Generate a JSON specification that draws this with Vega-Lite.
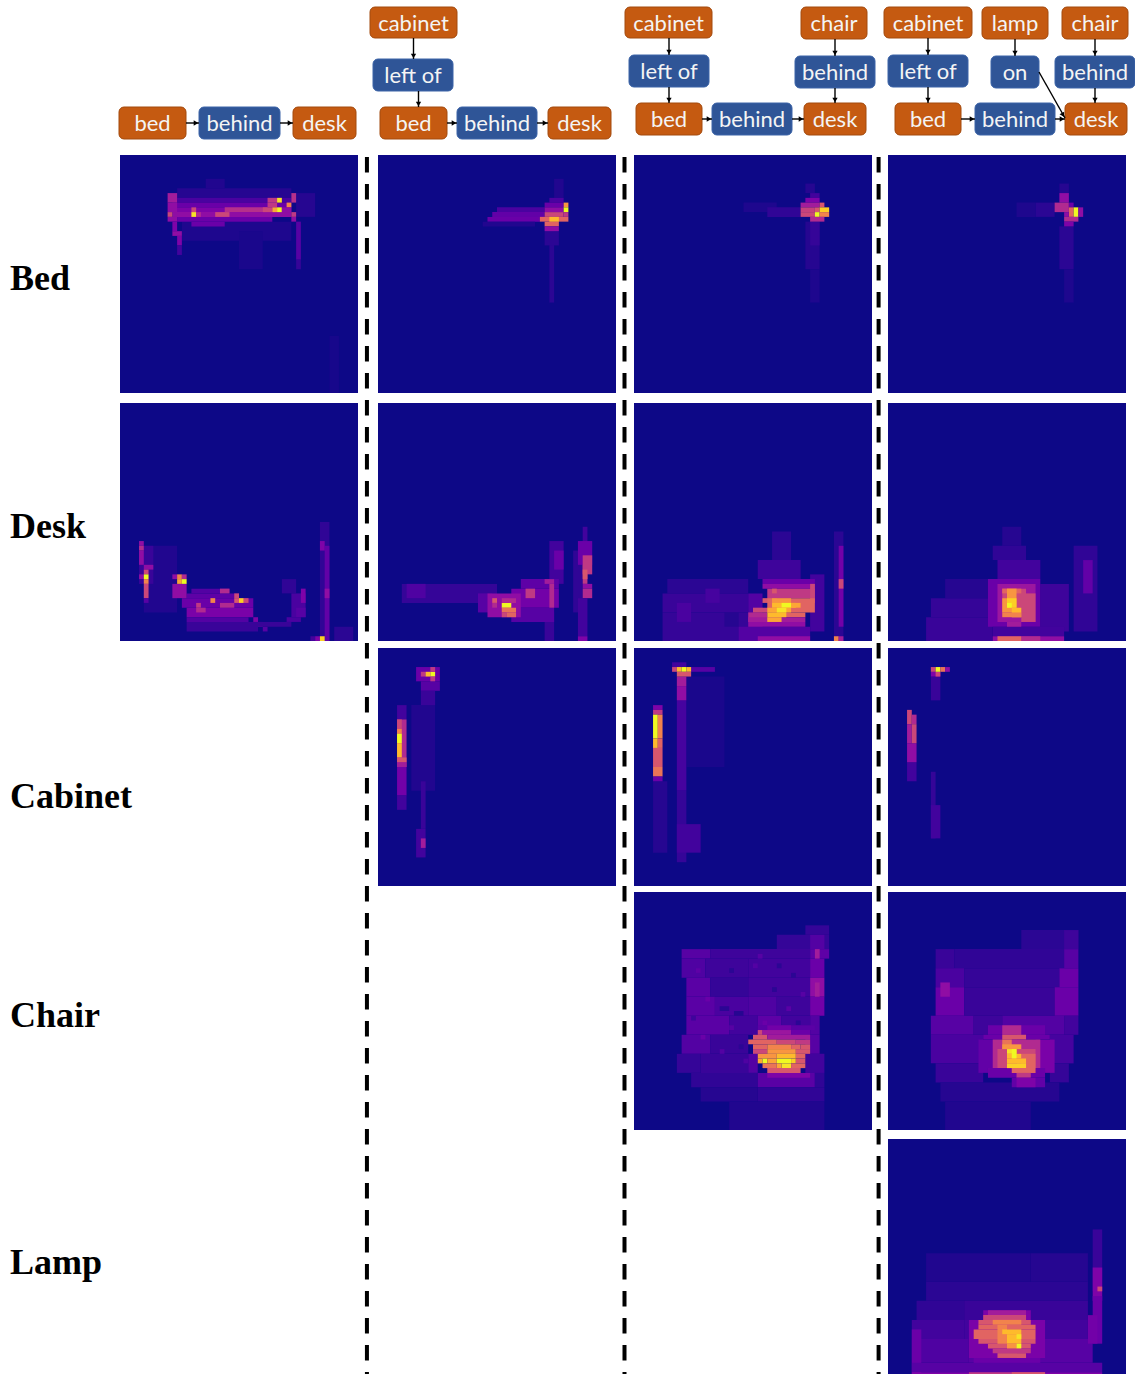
{"$schema":"https://vega.github.io/schema/vega-lite/v6.json","padding":0,"background":"white","spacing":0,"config":{"view":{"stroke":null},"concat":{"spacing":0},"axis":{"disable":true},"legend":{"disable":true}},
"datasets":{
"nodes":[
{"t":"bed","k":"object","x":119,"X":186,"y":107,"Y":139,"cx":152.5,"cy":123},
{"t":"behind","k":"relation","x":199,"X":280,"y":107,"Y":139,"cx":239.5,"cy":123},
{"t":"desk","k":"object","x":293,"X":356,"y":107,"Y":139,"cx":324.5,"cy":123},
{"t":"cabinet","k":"object","x":370,"X":457,"y":7,"Y":38,"cx":413.5,"cy":23},
{"t":"left of","k":"relation","x":373,"X":453,"y":59,"Y":91,"cx":413,"cy":75},
{"t":"bed","k":"object","x":380,"X":447,"y":107,"Y":139,"cx":413.5,"cy":123},
{"t":"behind","k":"relation","x":457,"X":537,"y":107,"Y":139,"cx":497,"cy":123},
{"t":"desk","k":"object","x":548,"X":611,"y":107,"Y":139,"cx":579.5,"cy":123},
{"t":"cabinet","k":"object","x":625,"X":712,"y":7,"Y":38,"cx":668.5,"cy":23},
{"t":"chair","k":"object","x":801,"X":867,"y":7,"Y":39,"cx":834,"cy":23},
{"t":"left of","k":"relation","x":629,"X":709,"y":55,"Y":87,"cx":669,"cy":71},
{"t":"behind","k":"relation","x":795,"X":875,"y":56,"Y":88,"cx":835,"cy":72},
{"t":"bed","k":"object","x":636,"X":702,"y":103,"Y":135,"cx":669,"cy":119},
{"t":"behind","k":"relation","x":712,"X":792,"y":103,"Y":135,"cx":752,"cy":119},
{"t":"desk","k":"object","x":804,"X":866,"y":103,"Y":135,"cx":835,"cy":119},
{"t":"cabinet","k":"object","x":884,"X":972,"y":7,"Y":38,"cx":928,"cy":23},
{"t":"lamp","k":"object","x":982,"X":1048,"y":7,"Y":39,"cx":1015,"cy":23},
{"t":"chair","k":"object","x":1062,"X":1128,"y":7,"Y":39,"cx":1095,"cy":23},
{"t":"left of","k":"relation","x":888,"X":968,"y":55,"Y":87,"cx":928,"cy":71},
{"t":"on","k":"relation","x":991,"X":1039,"y":56,"Y":88,"cx":1015,"cy":72},
{"t":"behind","k":"relation","x":1055,"X":1135,"y":56,"Y":88,"cx":1095,"cy":72},
{"t":"bed","k":"object","x":895,"X":961,"y":103,"Y":135,"cx":928,"cy":119},
{"t":"behind","k":"relation","x":975,"X":1055,"y":103,"Y":135,"cx":1015,"cy":119},
{"t":"desk","k":"object","x":1065,"X":1127,"y":103,"Y":135,"cx":1096,"cy":119}],
"edges":[
{"x":186,"y":123,"X":199,"Y":123,"hx":196,"hy":123,"a":90},
{"x":280,"y":123,"X":293,"Y":123,"hx":290,"hy":123,"a":90},
{"x":413.5,"y":38,"X":413.5,"Y":59,"hx":413.5,"hy":56,"a":180},
{"x":418.5,"y":91,"X":418.5,"Y":107,"hx":418.5,"hy":104,"a":180},
{"x":447,"y":123,"X":457,"Y":123,"hx":454,"hy":123,"a":90},
{"x":537,"y":123,"X":548,"Y":123,"hx":545,"hy":123,"a":90},
{"x":669,"y":38,"X":669,"Y":55,"hx":669,"hy":52,"a":180},
{"x":669,"y":87,"X":669,"Y":103,"hx":669,"hy":100,"a":180},
{"x":835,"y":39,"X":835,"Y":56,"hx":835,"hy":53,"a":180},
{"x":835,"y":88,"X":835,"Y":103,"hx":835,"hy":100,"a":180},
{"x":702,"y":119,"X":712,"Y":119,"hx":709,"hy":119,"a":90},
{"x":792,"y":119,"X":804,"Y":119,"hx":801,"hy":119,"a":90},
{"x":928,"y":38,"X":928,"Y":55,"hx":928,"hy":52,"a":180},
{"x":928,"y":87,"X":928,"Y":103,"hx":928,"hy":100,"a":180},
{"x":1015,"y":39,"X":1015,"Y":56,"hx":1015,"hy":53,"a":180},
{"x":1095,"y":39,"X":1095,"Y":56,"hx":1095,"hy":53,"a":180},
{"x":1095,"y":88,"X":1095,"Y":103,"hx":1095,"hy":100,"a":180},
{"x":961,"y":119,"X":975,"Y":119,"hx":972,"hy":119,"a":90},
{"x":1055,"y":119,"X":1065,"Y":119,"hx":1062,"hy":119,"a":90},
{"x":1039,"y":72,"X":1065,"Y":118,"hx":1063,"hy":115,"a":150}],
"a1":[{"x":12,"X":36,"y":7,"Y":9,"v":0.04},{"x":37,"X":41,"y":8,"Y":13,"v":0.04},{"x":18,"X":22,"y":5,"Y":7,"v":0.03},{"x":13,"X":36,"y":14,"Y":18,"v":0.025},{"x":25,"X":30,"y":16,"Y":24,"v":0.02},{"x":44,"X":46,"y":38,"Y":50,"v":0.015},{"x":12,"X":36,"y":9,"Y":10,"v":0.12},{"x":11,"X":36,"y":10,"Y":11,"v":0.2},{"x":11,"X":36,"y":11,"Y":12,"v":0.25},{"x":11,"X":36,"y":12,"Y":13,"v":0.3},{"x":12,"X":32,"y":13,"Y":14,"v":0.2},{"x":15,"X":22,"y":14,"Y":15,"v":0.2},{"x":10,"X":12,"y":8,"Y":10,"v":0.35},{"x":10,"X":12,"y":10,"Y":12,"v":0.3},{"x":10,"X":11,"y":12,"Y":13,"v":0.5},{"x":10,"X":12,"y":13,"Y":14,"v":0.3},{"x":11,"X":12,"y":14,"Y":16,"v":0.25},{"x":11,"X":13,"y":16,"Y":17,"v":0.3},{"x":12,"X":13,"y":17,"Y":19,"v":0.25},{"x":12,"X":13,"y":19,"Y":21,"v":0.1},{"x":22,"X":31,"y":11,"Y":12,"v":0.42},{"x":20,"X":23,"y":12,"Y":13,"v":0.5},{"x":31,"X":33,"y":10,"Y":11,"v":0.45},{"x":31,"X":33,"y":9,"Y":10,"v":0.45},{"x":33,"X":34,"y":9,"Y":10,"v":0.95},{"x":30,"X":32,"y":11,"Y":12,"v":0.5},{"x":32,"X":33,"y":11,"Y":12,"v":0.8},{"x":33,"X":34,"y":11,"Y":12,"v":1},{"x":35,"X":36,"y":10,"Y":11,"v":0.7},{"x":34,"X":36,"y":11,"Y":12,"v":0.3},{"x":36,"X":37,"y":8,"Y":10,"v":0.42},{"x":36,"X":37,"y":12,"Y":13,"v":0.45},{"x":36,"X":37,"y":13,"Y":14,"v":0.3},{"x":37,"X":38,"y":14,"Y":22,"v":0.15},{"x":37,"X":38,"y":22,"Y":24,"v":0.07},{"x":15,"X":16,"y":11,"Y":12,"v":0.5},{"x":15,"X":16,"y":12,"Y":13,"v":0.95},{"x":16,"X":17,"y":12,"Y":13,"v":0.4}],
"a2":[{"x":5,"X":12,"y":30,"Y":44,"v":0.03},{"x":4,"X":7,"y":30,"Y":38,"v":0.08},{"x":4,"X":5,"y":29,"Y":30,"v":0.3},{"x":4,"X":5,"y":30,"Y":31,"v":0.4},{"x":4,"X":5,"y":31,"Y":34,"v":0.3},{"x":5,"X":7,"y":34,"Y":35,"v":0.3},{"x":5,"X":6,"y":35,"Y":36,"v":0.5},{"x":4,"X":5,"y":36,"Y":37,"v":0.3},{"x":5,"X":6,"y":36,"Y":37,"v":1},{"x":5,"X":6,"y":37,"Y":38,"v":0.7},{"x":5,"X":6,"y":38,"Y":41,"v":0.5},{"x":5,"X":6,"y":41,"Y":42,"v":0.15},{"x":14,"X":29,"y":46,"Y":48,"v":0.08},{"x":15,"X":23,"y":39,"Y":40,"v":0.14},{"x":14,"X":25,"y":40,"Y":41,"v":0.17},{"x":13,"X":28,"y":41,"Y":43,"v":0.2},{"x":14,"X":28,"y":43,"Y":45,"v":0.24},{"x":14,"X":27,"y":45,"Y":46,"v":0.14},{"x":11,"X":14,"y":38,"Y":41,"v":0.3},{"x":11,"X":12,"y":36,"Y":37,"v":0.3},{"x":12,"X":13,"y":36,"Y":37,"v":0.7},{"x":13,"X":14,"y":36,"Y":37,"v":0.4},{"x":12,"X":13,"y":37,"Y":38,"v":0.8},{"x":13,"X":14,"y":37,"Y":38,"v":1},{"x":19,"X":20,"y":41,"Y":42,"v":0.7},{"x":24,"X":25,"y":41,"Y":42,"v":0.55},{"x":25,"X":26,"y":41,"Y":42,"v":0.9},{"x":26,"X":27,"y":41,"Y":42,"v":0.5},{"x":21,"X":23,"y":39,"Y":40,"v":0.4},{"x":24,"X":25,"y":40,"Y":41,"v":0.5},{"x":16,"X":17,"y":42,"Y":43,"v":0.45},{"x":16,"X":18,"y":43,"Y":44,"v":0.4},{"x":21,"X":24,"y":42,"Y":43,"v":0.4},{"x":28,"X":29,"y":45,"Y":46,"v":0.25},{"x":29,"X":30,"y":46,"Y":47,"v":0.25},{"x":30,"X":31,"y":47,"Y":48,"v":0.15},{"x":29,"X":36,"y":46,"Y":47,"v":0.08},{"x":34,"X":37,"y":37,"Y":40,"v":0.06},{"x":36,"X":39,"y":40,"Y":45,"v":0.12},{"x":37,"X":39,"y":43,"Y":45,"v":0.15},{"x":38,"X":39,"y":39,"Y":42,"v":0.25},{"x":35,"X":38,"y":45,"Y":46,"v":0.12},{"x":42,"X":44,"y":25,"Y":50,"v":0.06},{"x":43,"X":44,"y":30,"Y":50,"v":0.18},{"x":43,"X":44,"y":39,"Y":41,"v":0.3},{"x":42,"X":43,"y":29,"Y":31,"v":0.25},{"x":45,"X":49,"y":47,"Y":50,"v":0.05},{"x":40,"X":41,"y":49,"Y":50,"v":0.1},{"x":41,"X":42,"y":49,"Y":50,"v":0.25},{"x":42,"X":43,"y":49,"Y":50,"v":0.9}],
"b1":[{"x":37,"X":39,"y":5,"Y":9,"v":0.03},{"x":36,"X":37,"y":16,"Y":31,"v":0.05},{"x":35,"X":38,"y":16,"Y":19,"v":0.05},{"x":36,"X":39,"y":9,"Y":10,"v":0.12},{"x":35,"X":39,"y":10,"Y":11,"v":0.2},{"x":25,"X":35,"y":11,"Y":12,"v":0.12},{"x":24,"X":35,"y":12,"Y":13,"v":0.18},{"x":23,"X":34,"y":13,"Y":14,"v":0.2},{"x":22,"X":33,"y":14,"Y":15,"v":0.03},{"x":35,"X":39,"y":11,"Y":12,"v":0.3},{"x":35,"X":39,"y":12,"Y":13,"v":0.5},{"x":34,"X":40,"y":13,"Y":14,"v":0.6},{"x":35,"X":38,"y":14,"Y":15,"v":0.6},{"x":35,"X":38,"y":15,"Y":16,"v":0.3},{"x":36,"X":38,"y":13,"Y":14,"v":0.85},{"x":39,"X":40,"y":10,"Y":11,"v":0.75},{"x":39,"X":40,"y":11,"Y":12,"v":1},{"x":39,"X":40,"y":12,"Y":13,"v":0.45}],
"c1":[{"x":36,"X":39,"y":14,"Y":24,"v":0.04},{"x":37,"X":39,"y":24,"Y":31,"v":0.025},{"x":37,"X":39,"y":14,"Y":19,"v":0.07},{"x":36,"X":38,"y":6,"Y":8,"v":0.04},{"x":23,"X":30,"y":10,"Y":12,"v":0.025},{"x":28,"X":35,"y":11,"Y":13,"v":0.06},{"x":37,"X":39,"y":8,"Y":9,"v":0.1},{"x":36,"X":39,"y":9,"Y":10,"v":0.25},{"x":35,"X":39,"y":10,"Y":11,"v":0.35},{"x":39,"X":40,"y":10,"Y":11,"v":0.55},{"x":35,"X":38,"y":11,"Y":12,"v":0.48},{"x":38,"X":39,"y":11,"Y":12,"v":0.55},{"x":39,"X":41,"y":11,"Y":12,"v":0.9},{"x":35,"X":38,"y":12,"Y":13,"v":0.5},{"x":38,"X":39,"y":12,"Y":13,"v":1},{"x":39,"X":41,"y":12,"Y":13,"v":0.7},{"x":37,"X":40,"y":13,"Y":14,"v":0.4}],
"d1":[{"x":36,"X":39,"y":15,"Y":24,"v":0.05},{"x":37,"X":39,"y":24,"Y":31,"v":0.025},{"x":27,"X":31,"y":10,"Y":13,"v":0.025},{"x":31,"X":35,"y":10,"Y":13,"v":0.05},{"x":36,"X":38,"y":6,"Y":8,"v":0.04},{"x":36,"X":38,"y":8,"Y":10,"v":0.3},{"x":35,"X":38,"y":10,"Y":12,"v":0.4},{"x":38,"X":39,"y":10,"Y":11,"v":0.2},{"x":38,"X":39,"y":11,"Y":13,"v":0.6},{"x":39,"X":40,"y":11,"Y":13,"v":1},{"x":40,"X":41,"y":11,"Y":13,"v":0.3},{"x":37,"X":38,"y":12,"Y":13,"v":0.3},{"x":37,"X":40,"y":13,"Y":14,"v":0.4},{"x":37,"X":39,"y":14,"Y":15,"v":0.25}],
"b2":[{"x":5,"X":25,"y":38,"Y":42,"v":0.07},{"x":6,"X":10,"y":38,"Y":41,"v":0.13},{"x":41,"X":43,"y":31,"Y":44,"v":0.06},{"x":36,"X":39,"y":29,"Y":38,"v":0.1},{"x":37,"X":39,"y":31,"Y":35,"v":0.2},{"x":35,"X":37,"y":44,"Y":50,"v":0.08},{"x":30,"X":38,"y":37,"Y":39,"v":0.17},{"x":28,"X":38,"y":39,"Y":43,"v":0.22},{"x":28,"X":37,"y":43,"Y":46,"v":0.15},{"x":21,"X":24,"y":40,"Y":44,"v":0.15},{"x":23,"X":30,"y":40,"Y":45,"v":0.3},{"x":31,"X":33,"y":39,"Y":41,"v":0.45},{"x":36,"X":37,"y":38,"Y":43,"v":0.4},{"x":35,"X":37,"y":37,"Y":38,"v":0.35},{"x":24,"X":25,"y":41,"Y":42,"v":0.55},{"x":24,"X":25,"y":42,"Y":43,"v":0.4},{"x":26,"X":29,"y":41,"Y":42,"v":0.4},{"x":26,"X":28,"y":42,"Y":43,"v":1},{"x":26,"X":29,"y":43,"Y":44,"v":0.65},{"x":26,"X":27,"y":44,"Y":45,"v":0.5},{"x":27,"X":29,"y":44,"Y":45,"v":0.6},{"x":43,"X":44,"y":26,"Y":30,"v":0.1},{"x":42,"X":45,"y":29,"Y":34,"v":0.2},{"x":43,"X":45,"y":32,"Y":36,"v":0.45},{"x":43,"X":44,"y":34,"Y":38,"v":0.45},{"x":43,"X":44,"y":35,"Y":37,"v":0.55},{"x":43,"X":45,"y":38,"Y":39,"v":0.3},{"x":43,"X":45,"y":39,"Y":41,"v":0.4},{"x":42,"X":44,"y":41,"Y":49,"v":0.1},{"x":42,"X":44,"y":49,"Y":50,"v":0.25}],
"c2":[{"x":7,"X":24,"y":37,"Y":40,"v":0.05},{"x":6,"X":24,"y":40,"Y":44,"v":0.08},{"x":6,"X":24,"y":44,"Y":50,"v":0.07},{"x":9,"X":12,"y":42,"Y":46,"v":0.12},{"x":15,"X":18,"y":39,"Y":42,"v":0.11},{"x":19,"X":22,"y":44,"Y":47,"v":0.04},{"x":29,"X":33,"y":27,"Y":33,"v":0.05},{"x":26,"X":35,"y":33,"Y":37,"v":0.09},{"x":42,"X":44,"y":27,"Y":50,"v":0.05},{"x":43,"X":44,"y":30,"Y":47,"v":0.22},{"x":43,"X":44,"y":37,"Y":39,"v":0.5},{"x":22,"X":37,"y":47,"Y":50,"v":0.14},{"x":26,"X":37,"y":49,"Y":50,"v":0.3},{"x":42,"X":43,"y":49,"Y":50,"v":0.7},{"x":43,"X":44,"y":49,"Y":50,"v":0.35},{"x":37,"X":40,"y":36,"Y":48,"v":0.1},{"x":24,"X":27,"y":40,"Y":47,"v":0.14},{"x":27,"X":38,"y":37,"Y":38,"v":0.2},{"x":27,"X":38,"y":38,"Y":39,"v":0.3},{"x":28,"X":38,"y":39,"Y":41,"v":0.45},{"x":29,"X":30,"y":39,"Y":40,"v":0.55},{"x":27,"X":30,"y":41,"Y":42,"v":0.55},{"x":37,"X":38,"y":38,"Y":42,"v":0.5},{"x":28,"X":38,"y":41,"Y":44,"v":0.6},{"x":29,"X":36,"y":44,"Y":45,"v":0.6},{"x":24,"X":28,"y":44,"Y":46,"v":0.4},{"x":25,"X":29,"y":43,"Y":44,"v":0.5},{"x":24,"X":36,"y":45,"Y":46,"v":0.35},{"x":24,"X":36,"y":46,"Y":47,"v":0.3},{"x":29,"X":33,"y":41,"Y":42,"v":0.75},{"x":29,"X":34,"y":42,"Y":43,"v":0.85},{"x":31,"X":33,"y":42,"Y":43,"v":1},{"x":33,"X":35,"y":42,"Y":43,"v":0.8},{"x":28,"X":33,"y":43,"Y":44,"v":0.8},{"x":28,"X":32,"y":44,"Y":45,"v":0.85},{"x":30,"X":32,"y":43,"Y":44,"v":0.95},{"x":28,"X":31,"y":45,"Y":46,"v":0.8}],
"d2":[{"x":12,"X":22,"y":37,"Y":41,"v":0.04},{"x":9,"X":22,"y":41,"Y":45,"v":0.07},{"x":8,"X":22,"y":45,"Y":50,"v":0.08},{"x":32,"X":38,"y":38,"Y":48,"v":0.09},{"x":24,"X":28,"y":26,"Y":30,"v":0.04},{"x":22,"X":29,"y":30,"Y":33,"v":0.06},{"x":23,"X":32,"y":33,"Y":37,"v":0.1},{"x":39,"X":44,"y":30,"Y":48,"v":0.06},{"x":41,"X":43,"y":33,"Y":40,"v":0.18},{"x":22,"X":37,"y":47,"Y":49,"v":0.1},{"x":21,"X":32,"y":37,"Y":47,"v":0.2},{"x":23,"X":31,"y":38,"Y":46,"v":0.33},{"x":28,"X":31,"y":40,"Y":46,"v":0.5},{"x":24,"X":29,"y":39,"Y":44,"v":0.5},{"x":24,"X":28,"y":39,"Y":40,"v":0.6},{"x":25,"X":27,"y":39,"Y":41,"v":0.75},{"x":24,"X":27,"y":41,"Y":44,"v":0.75},{"x":25,"X":27,"y":41,"Y":43,"v":0.9},{"x":25,"X":26,"y":42,"Y":43,"v":1},{"x":26,"X":28,"y":43,"Y":45,"v":0.85},{"x":24,"X":28,"y":44,"Y":45,"v":0.7},{"x":25,"X":28,"y":46,"Y":47,"v":0.35},{"x":22,"X":37,"y":49,"Y":50,"v":0.3},{"x":28,"X":32,"y":49,"Y":50,"v":0.4},{"x":23,"X":28,"y":49,"Y":50,"v":0.6}],
"b3":[{"x":7,"X":12,"y":12,"Y":30,"v":0.03},{"x":9,"X":13,"y":7,"Y":9,"v":0.15},{"x":9,"X":12,"y":9,"Y":12,"v":0.08},{"x":9,"X":10,"y":28,"Y":38,"v":0.08},{"x":8,"X":10,"y":38,"Y":44,"v":0.1},{"x":9,"X":10,"y":40,"Y":42,"v":0.35},{"x":8,"X":13,"y":4,"Y":7,"v":0.2},{"x":9,"X":10,"y":5,"Y":6,"v":0.45},{"x":10,"X":11,"y":5,"Y":6,"v":0.85},{"x":11,"X":12,"y":5,"Y":6,"v":1},{"x":11,"X":12,"y":4,"Y":5,"v":0.45},{"x":11,"X":12,"y":6,"Y":7,"v":0.45},{"x":4,"X":6,"y":12,"Y":15,"v":0.1},{"x":4,"X":6,"y":15,"Y":25,"v":0.4},{"x":4,"X":5,"y":15,"Y":17,"v":0.5},{"x":4,"X":5,"y":17,"Y":18,"v":0.7},{"x":4,"X":5,"y":18,"Y":20,"v":1},{"x":4,"X":5,"y":20,"Y":23,"v":0.85},{"x":4,"X":6,"y":23,"Y":24,"v":0.55},{"x":4,"X":6,"y":24,"Y":25,"v":0.35},{"x":4,"X":6,"y":25,"Y":31,"v":0.22},{"x":4,"X":6,"y":31,"Y":34,"v":0.1}],
"c3":[{"x":11,"X":19,"y":6,"Y":25,"v":0.02},{"x":4,"X":7,"y":28,"Y":43,"v":0.04},{"x":9,"X":11,"y":11,"Y":30,"v":0.11},{"x":9,"X":11,"y":30,"Y":45,"v":0.07},{"x":9,"X":14,"y":37,"Y":43,"v":0.1},{"x":8,"X":11,"y":3,"Y":4,"v":0.1},{"x":12,"X":17,"y":4,"Y":5,"v":0.15},{"x":9,"X":11,"y":6,"Y":8,"v":0.35},{"x":9,"X":11,"y":8,"Y":11,"v":0.3},{"x":8,"X":9,"y":4,"Y":5,"v":0.5},{"x":9,"X":10,"y":4,"Y":5,"v":0.85},{"x":10,"X":11,"y":4,"Y":5,"v":1},{"x":11,"X":12,"y":4,"Y":5,"v":0.85},{"x":9,"X":12,"y":5,"Y":6,"v":0.55},{"x":4,"X":6,"y":12,"Y":13,"v":0.25},{"x":4,"X":6,"y":13,"Y":14,"v":0.45},{"x":4,"X":5,"y":14,"Y":19,"v":1},{"x":5,"X":6,"y":14,"Y":19,"v":0.7},{"x":4,"X":5,"y":19,"Y":21,"v":0.85},{"x":5,"X":6,"y":19,"Y":21,"v":0.6},{"x":4,"X":6,"y":21,"Y":25,"v":0.55},{"x":4,"X":6,"y":25,"Y":27,"v":0.65},{"x":4,"X":6,"y":27,"Y":28,"v":0.2}],
"d3":[{"x":9,"X":11,"y":6,"Y":11,"v":0.08},{"x":9,"X":10,"y":26,"Y":40,"v":0.07},{"x":9,"X":11,"y":33,"Y":40,"v":0.1},{"x":9,"X":11,"y":5,"Y":6,"v":0.25},{"x":10,"X":11,"y":5,"Y":6,"v":0.5},{"x":9,"X":10,"y":4,"Y":5,"v":0.5},{"x":10,"X":11,"y":4,"Y":5,"v":1},{"x":11,"X":12,"y":4,"Y":5,"v":0.65},{"x":12,"X":13,"y":4,"Y":5,"v":0.3},{"x":4,"X":6,"y":24,"Y":28,"v":0.1},{"x":4,"X":6,"y":20,"Y":24,"v":0.3},{"x":4,"X":5,"y":13,"Y":16,"v":0.5},{"x":5,"X":6,"y":14,"Y":16,"v":0.4},{"x":4,"X":5,"y":16,"Y":20,"v":0.35},{"x":5,"X":6,"y":16,"Y":20,"v":0.5}],
"c4":[{"x":36,"X":41,"y":7,"Y":9,"v":0.07},{"x":30,"X":41,"y":9,"Y":12,"v":0.07},{"x":37,"X":40,"y":9,"Y":12,"v":0.14},{"x":10,"X":16,"y":12,"Y":14,"v":0.15},{"x":16,"X":37,"y":12,"Y":14,"v":0.09},{"x":37,"X":41,"y":12,"Y":14,"v":0.17},{"x":10,"X":15,"y":14,"Y":18,"v":0.13},{"x":15,"X":24,"y":14,"Y":18,"v":0.09},{"x":24,"X":37,"y":14,"Y":18,"v":0.1},{"x":37,"X":40,"y":14,"Y":18,"v":0.2},{"x":11,"X":16,"y":18,"Y":22,"v":0.16},{"x":16,"X":24,"y":18,"Y":22,"v":0.07},{"x":24,"X":37,"y":18,"Y":22,"v":0.1},{"x":37,"X":40,"y":18,"Y":22,"v":0.3},{"x":11,"X":17,"y":22,"Y":26,"v":0.16},{"x":17,"X":24,"y":22,"Y":26,"v":0.12},{"x":24,"X":30,"y":22,"Y":26,"v":0.13},{"x":30,"X":37,"y":22,"Y":26,"v":0.09},{"x":37,"X":40,"y":22,"Y":26,"v":0.22},{"x":11,"X":20,"y":26,"Y":30,"v":0.16},{"x":20,"X":26,"y":26,"Y":30,"v":0.1},{"x":26,"X":31,"y":26,"Y":30,"v":0.17},{"x":31,"X":37,"y":26,"Y":30,"v":0.1},{"x":37,"X":39,"y":26,"Y":30,"v":0.14},{"x":10,"X":16,"y":30,"Y":34,"v":0.14},{"x":16,"X":24,"y":30,"Y":34,"v":0.08},{"x":36,"X":39,"y":30,"Y":34,"v":0.15},{"x":9,"X":14,"y":34,"Y":38,"v":0.07},{"x":14,"X":24,"y":34,"Y":38,"v":0.08},{"x":24,"X":26,"y":34,"Y":38,"v":0.14},{"x":36,"X":40,"y":34,"Y":38,"v":0.1},{"x":12,"X":26,"y":38,"Y":41,"v":0.06},{"x":26,"X":38,"y":38,"Y":41,"v":0.16},{"x":38,"X":40,"y":38,"Y":41,"v":0.06},{"x":14,"X":26,"y":41,"Y":44,"v":0.04},{"x":26,"X":40,"y":41,"Y":44,"v":0.06},{"x":20,"X":40,"y":44,"Y":50,"v":0.03},{"x":38,"X":39,"y":12,"Y":14,"v":0.35},{"x":38,"X":39,"y":19,"Y":22,"v":0.35},{"x":20,"X":21,"y":16,"Y":17,"v":0.05},{"x":26,"X":27,"y":13,"Y":14,"v":0.15},{"x":33,"X":34,"y":17,"Y":18,"v":0.05},{"x":15,"X":16,"y":22,"Y":23,"v":0.2},{"x":18,"X":20,"y":24,"Y":25,"v":0.05},{"x":29,"X":30,"y":20,"Y":21,"v":0.05},{"x":21,"X":23,"y":25,"Y":26,"v":0.04},{"x":32,"X":33,"y":24,"Y":25,"v":0.16},{"x":27,"X":28,"y":27,"Y":28,"v":0.2},{"x":14,"X":15,"y":30,"Y":31,"v":0.2},{"x":12,"X":13,"y":26,"Y":27,"v":0.09},{"x":25,"X":26,"y":15,"Y":16,"v":0.14},{"x":30,"X":31,"y":15,"Y":16,"v":0.05},{"x":35,"X":36,"y":21,"Y":22,"v":0.15},{"x":34,"X":35,"y":27,"Y":28,"v":0.05},{"x":18,"X":19,"y":33,"Y":34,"v":0.14},{"x":22,"X":23,"y":32,"Y":33,"v":0.05},{"x":20,"X":21,"y":28,"Y":29,"v":0.15},{"x":23,"X":24,"y":35,"Y":36,"v":0.13},{"x":13,"X":14,"y":16,"Y":17,"v":0.17},{"x":26,"X":38,"y":28,"Y":29,"v":0.16},{"x":28,"X":33,"y":28,"Y":29,"v":0.22},{"x":26,"X":27,"y":29,"Y":30,"v":0.5},{"x":27,"X":33,"y":29,"Y":30,"v":0.33},{"x":33,"X":37,"y":29,"Y":30,"v":0.2},{"x":25,"X":28,"y":30,"Y":31,"v":0.55},{"x":28,"X":37,"y":30,"Y":31,"v":0.35},{"x":24,"X":30,"y":31,"Y":32,"v":0.6},{"x":30,"X":34,"y":31,"Y":32,"v":0.5},{"x":34,"X":37,"y":31,"Y":32,"v":0.45},{"x":25,"X":28,"y":32,"Y":33,"v":0.6},{"x":28,"X":33,"y":32,"Y":33,"v":0.7},{"x":33,"X":35,"y":32,"Y":33,"v":0.6},{"x":35,"X":37,"y":32,"Y":33,"v":0.55},{"x":25,"X":28,"y":33,"Y":34,"v":0.5},{"x":28,"X":34,"y":33,"Y":34,"v":0.75},{"x":34,"X":37,"y":33,"Y":34,"v":0.55},{"x":26,"X":30,"y":34,"Y":35,"v":0.75},{"x":30,"X":34,"y":34,"Y":35,"v":0.85},{"x":34,"X":36,"y":34,"Y":35,"v":0.6},{"x":26,"X":27,"y":35,"Y":36,"v":0.8},{"x":27,"X":28,"y":35,"Y":36,"v":1},{"x":28,"X":30,"y":35,"Y":36,"v":0.8},{"x":30,"X":33,"y":35,"Y":36,"v":1},{"x":33,"X":34,"y":35,"Y":36,"v":0.9},{"x":34,"X":36,"y":35,"Y":36,"v":0.55},{"x":27,"X":30,"y":36,"Y":37,"v":0.65},{"x":30,"X":31,"y":36,"Y":37,"v":0.8},{"x":31,"X":33,"y":36,"Y":37,"v":0.95},{"x":33,"X":36,"y":36,"Y":37,"v":0.6},{"x":28,"X":35,"y":37,"Y":38,"v":0.55},{"x":28,"X":37,"y":38,"Y":39,"v":0.25}],
"d4":[{"x":28,"X":40,"y":8,"Y":12,"v":0.05},{"x":37,"X":40,"y":8,"Y":12,"v":0.09},{"x":10,"X":14,"y":12,"Y":16,"v":0.08},{"x":14,"X":37,"y":12,"Y":16,"v":0.06},{"x":37,"X":40,"y":12,"Y":16,"v":0.15},{"x":10,"X":16,"y":16,"Y":20,"v":0.12},{"x":16,"X":36,"y":16,"Y":20,"v":0.07},{"x":36,"X":40,"y":16,"Y":20,"v":0.2},{"x":10,"X":16,"y":20,"Y":26,"v":0.2},{"x":16,"X":35,"y":20,"Y":26,"v":0.08},{"x":35,"X":40,"y":20,"Y":26,"v":0.2},{"x":9,"X":18,"y":26,"Y":30,"v":0.15},{"x":18,"X":24,"y":26,"Y":30,"v":0.09},{"x":24,"X":37,"y":26,"Y":30,"v":0.14},{"x":37,"X":40,"y":26,"Y":30,"v":0.1},{"x":9,"X":20,"y":30,"Y":36,"v":0.12},{"x":34,"X":39,"y":30,"Y":36,"v":0.11},{"x":10,"X":20,"y":36,"Y":40,"v":0.08},{"x":34,"X":38,"y":36,"Y":40,"v":0.07},{"x":11,"X":36,"y":40,"Y":44,"v":0.04},{"x":12,"X":30,"y":44,"Y":50,"v":0.03},{"x":11,"X":13,"y":19,"Y":22,"v":0.3},{"x":21,"X":33,"y":28,"Y":30,"v":0.2},{"x":19,"X":24,"y":31,"Y":38,"v":0.18},{"x":31,"X":35,"y":31,"Y":38,"v":0.24},{"x":21,"X":33,"y":37,"Y":39,"v":0.2},{"x":26,"X":33,"y":39,"Y":41,"v":0.18},{"x":20,"X":34,"y":30,"Y":31,"v":0.2},{"x":24,"X":28,"y":28,"Y":30,"v":0.4},{"x":24,"X":29,"y":30,"Y":31,"v":0.55},{"x":22,"X":32,"y":31,"Y":37,"v":0.4},{"x":23,"X":31,"y":33,"Y":37,"v":0.5},{"x":24,"X":26,"y":31,"Y":33,"v":0.65},{"x":24,"X":28,"y":32,"Y":33,"v":0.75},{"x":28,"X":31,"y":34,"Y":37,"v":0.6},{"x":25,"X":27,"y":33,"Y":34,"v":0.95},{"x":25,"X":28,"y":34,"Y":35,"v":0.85},{"x":26,"X":27,"y":33,"Y":35,"v":1},{"x":25,"X":29,"y":35,"Y":36,"v":0.85},{"x":25,"X":29,"y":36,"Y":37,"v":0.9},{"x":26,"X":31,"y":37,"Y":38,"v":0.6},{"x":27,"X":30,"y":38,"Y":39,"v":0.45},{"x":27,"X":31,"y":39,"Y":41,"v":0.25}],
"d5":[{"x":8,"X":30,"y":24,"Y":30,"v":0.03},{"x":30,"X":42,"y":24,"Y":30,"v":0.04},{"x":8,"X":42,"y":30,"Y":34,"v":0.05},{"x":6,"X":16,"y":34,"Y":38,"v":0.06},{"x":16,"X":42,"y":34,"Y":38,"v":0.08},{"x":5,"X":16,"y":38,"Y":42,"v":0.1},{"x":16,"X":42,"y":38,"Y":42,"v":0.1},{"x":5,"X":17,"y":42,"Y":47,"v":0.13},{"x":17,"X":43,"y":42,"Y":47,"v":0.15},{"x":5,"X":7,"y":40,"Y":50,"v":0.2},{"x":43,"X":45,"y":19,"Y":32,"v":0.08},{"x":43,"X":45,"y":27,"Y":34,"v":0.25},{"x":44,"X":45,"y":31,"Y":32,"v":0.5},{"x":43,"X":45,"y":33,"Y":43,"v":0.2},{"x":42,"X":44,"y":37,"Y":43,"v":0.22},{"x":17,"X":33,"y":38,"Y":46,"v":0.24},{"x":20,"X":30,"y":36,"Y":38,"v":0.25},{"x":21,"X":29,"y":36,"Y":37,"v":0.35},{"x":20,"X":29,"y":37,"Y":38,"v":0.5},{"x":19,"X":30,"y":38,"Y":39,"v":0.55},{"x":19,"X":31,"y":39,"Y":40,"v":0.6},{"x":18,"X":31,"y":40,"Y":42,"v":0.6},{"x":19,"X":31,"y":42,"Y":43,"v":0.55},{"x":21,"X":30,"y":43,"Y":44,"v":0.55},{"x":22,"X":30,"y":44,"Y":45,"v":0.45},{"x":23,"X":29,"y":45,"Y":46,"v":0.55},{"x":22,"X":28,"y":38,"Y":39,"v":0.7},{"x":23,"X":25,"y":39,"Y":43,"v":0.7},{"x":24,"X":28,"y":40,"Y":41,"v":0.85},{"x":25,"X":28,"y":41,"Y":43,"v":0.85},{"x":27,"X":28,"y":41,"Y":42,"v":0.95},{"x":25,"X":27,"y":43,"Y":44,"v":0.75},{"x":27,"X":28,"y":43,"Y":44,"v":1},{"x":18,"X":32,"y":46,"Y":48,"v":0.2},{"x":5,"X":45,"y":47,"Y":49,"v":0.15},{"x":5,"X":45,"y":49,"Y":50,"v":0.25},{"x":17,"X":33,"y":49,"Y":50,"v":0.45},{"x":26,"X":33,"y":49,"Y":50,"v":0.55}],
"rows":[{"t":"Bed","x":10,"y":278},{"t":"Desk","x":10,"y":526},{"t":"Cabinet","x":10,"y":796},{"t":"Chair","x":10,"y":1015},{"t":"Lamp","x":10,"y":1262}],
"line":[{"at":0.5,"y":2,"Y":1219}]
},
"vconcat":[
{"width":1135,"height":155,"layer":[
{"data":{"name":"nodes"},"mark":{"type":"rect","cornerRadius":5,"strokeWidth":1},"encoding":{"x":{"field":"x","type":"quantitative","scale":{"domain":[0,1135]}},"x2":{"field":"X"},"y":{"field":"y","type":"quantitative","scale":{"domain":[155,0]}},"y2":{"field":"Y"},"fill":{"field":"k","type":"nominal","scale":{"domain":["object","relation"],"range":["#c55a11","#2f5597"]}},"stroke":{"field":"k","type":"nominal","scale":{"domain":["object","relation"],"range":["#a34a0e","#3c64a8"]}}}},
{"data":{"name":"nodes"},"mark":{"type":"text","font":"Lato","fontSize":22,"color":"#f4f4f4","baseline":"middle","align":"center","dy":1},"encoding":{"x":{"field":"cx","type":"quantitative","scale":{"domain":[0,1135]}},"y":{"field":"cy","type":"quantitative","scale":{"domain":[155,0]}},"text":{"field":"t"}}},
{"data":{"name":"edges"},"mark":{"type":"rule","color":"black","strokeWidth":1.4},"encoding":{"x":{"field":"x","type":"quantitative","scale":{"domain":[0,1135]}},"x2":{"field":"X"},"y":{"field":"y","type":"quantitative","scale":{"domain":[155,0]}},"y2":{"field":"Y"}}},
{"data":{"name":"edges"},"mark":{"type":"point","shape":"triangle-up","filled":true,"color":"black","size":28,"opacity":1},"encoding":{"x":{"field":"hx","type":"quantitative","scale":{"domain":[0,1135]}},"y":{"field":"hy","type":"quantitative","scale":{"domain":[155,0]}},"angle":{"field":"a","type":"quantitative","scale":{"domain":[0,360],"range":[0,360]}}}}
]},
{"spacing":0,"bounds":"flush","hconcat":[
{"width":120,"height":1222,"data":{"name":"rows"},"mark":{"type":"text","font":"Liberation Serif","fontWeight":"bold","fontSize":36,"color":"black","align":"left","baseline":"middle","dy":1},"encoding":{"x":{"field":"x","type":"quantitative","scale":{"domain":[0,120]}},"y":{"field":"y","type":"quantitative","scale":{"domain":[1377,155]}},"text":{"field":"t"}}},
{"spacing":0,"bounds":"full","hconcat":[
{"spacing":0,"bounds":"flush","vconcat":[
{"width":238,"height":238,"view":{"fill":"#0d0887"},"data":{"name":"a1"},"mark":"rect","encoding":{"x":{"field":"x","type":"quantitative","scale":{"domain":[0,50]}},"x2":{"field":"X"},"y":{"field":"y","type":"quantitative","scale":{"domain":[50,0]}},"y2":{"field":"Y"},"color":{"field":"v","type":"quantitative","scale":{"scheme":"plasma","domain":[0,1]}}}},
{"width":1,"height":10,"data":{"values":[{}]},"mark":{"type":"rule","opacity":0},"encoding":{}},
{"width":238,"height":238,"view":{"fill":"#0d0887"},"data":{"name":"a2"},"mark":"rect","encoding":{"x":{"field":"x","type":"quantitative","scale":{"domain":[0,50]}},"x2":{"field":"X"},"y":{"field":"y","type":"quantitative","scale":{"domain":[50,0]}},"y2":{"field":"Y"},"color":{"field":"v","type":"quantitative","scale":{"scheme":"plasma","domain":[0,1]}}}}
]},
{"width":19,"height":1219,"data":{"name":"line"},"mark":{"type":"rule","color":"black","strokeWidth":4,"strokeDash":[15.5,11.5]},"encoding":{"x":{"field":"at","type":"quantitative","scale":{"domain":[0.03,1.03]}},"y":{"field":"y","type":"quantitative","scale":{"domain":[1219,0]}},"y2":{"field":"Y"}}},
{"spacing":0,"bounds":"flush","vconcat":[
{"width":238,"height":238,"view":{"fill":"#0d0887"},"data":{"name":"b1"},"mark":"rect","encoding":{"x":{"field":"x","type":"quantitative","scale":{"domain":[0,50]}},"x2":{"field":"X"},"y":{"field":"y","type":"quantitative","scale":{"domain":[50,0]}},"y2":{"field":"Y"},"color":{"field":"v","type":"quantitative","scale":{"scheme":"plasma","domain":[0,1]}}}},
{"width":1,"height":10,"data":{"values":[{}]},"mark":{"type":"rule","opacity":0},"encoding":{}},
{"width":238,"height":238,"view":{"fill":"#0d0887"},"data":{"name":"b2"},"mark":"rect","encoding":{"x":{"field":"x","type":"quantitative","scale":{"domain":[0,50]}},"x2":{"field":"X"},"y":{"field":"y","type":"quantitative","scale":{"domain":[50,0]}},"y2":{"field":"Y"},"color":{"field":"v","type":"quantitative","scale":{"scheme":"plasma","domain":[0,1]}}}},
{"width":1,"height":7,"data":{"values":[{}]},"mark":{"type":"rule","opacity":0},"encoding":{}},
{"width":238,"height":238,"view":{"fill":"#0d0887"},"data":{"name":"b3"},"mark":"rect","encoding":{"x":{"field":"x","type":"quantitative","scale":{"domain":[0,50]}},"x2":{"field":"X"},"y":{"field":"y","type":"quantitative","scale":{"domain":[50,0]}},"y2":{"field":"Y"},"color":{"field":"v","type":"quantitative","scale":{"scheme":"plasma","domain":[0,1]}}}}
]},
{"width":17,"height":1219,"data":{"name":"line"},"mark":{"type":"rule","color":"black","strokeWidth":4,"strokeDash":[15.5,11.5]},"encoding":{"x":{"field":"at","type":"quantitative","scale":{"domain":[0,1]}},"y":{"field":"y","type":"quantitative","scale":{"domain":[1219,0]}},"y2":{"field":"Y"}}},
{"spacing":0,"bounds":"flush","vconcat":[
{"width":238,"height":238,"view":{"fill":"#0d0887"},"data":{"name":"c1"},"mark":"rect","encoding":{"x":{"field":"x","type":"quantitative","scale":{"domain":[0,50]}},"x2":{"field":"X"},"y":{"field":"y","type":"quantitative","scale":{"domain":[50,0]}},"y2":{"field":"Y"},"color":{"field":"v","type":"quantitative","scale":{"scheme":"plasma","domain":[0,1]}}}},
{"width":1,"height":10,"data":{"values":[{}]},"mark":{"type":"rule","opacity":0},"encoding":{}},
{"width":238,"height":238,"view":{"fill":"#0d0887"},"data":{"name":"c2"},"mark":"rect","encoding":{"x":{"field":"x","type":"quantitative","scale":{"domain":[0,50]}},"x2":{"field":"X"},"y":{"field":"y","type":"quantitative","scale":{"domain":[50,0]}},"y2":{"field":"Y"},"color":{"field":"v","type":"quantitative","scale":{"scheme":"plasma","domain":[0,1]}}}},
{"width":1,"height":7,"data":{"values":[{}]},"mark":{"type":"rule","opacity":0},"encoding":{}},
{"width":238,"height":238,"view":{"fill":"#0d0887"},"data":{"name":"c3"},"mark":"rect","encoding":{"x":{"field":"x","type":"quantitative","scale":{"domain":[0,50]}},"x2":{"field":"X"},"y":{"field":"y","type":"quantitative","scale":{"domain":[50,0]}},"y2":{"field":"Y"},"color":{"field":"v","type":"quantitative","scale":{"scheme":"plasma","domain":[0,1]}}}},
{"width":1,"height":6,"data":{"values":[{}]},"mark":{"type":"rule","opacity":0},"encoding":{}},
{"width":238,"height":238,"view":{"fill":"#0d0887"},"data":{"name":"c4"},"mark":"rect","encoding":{"x":{"field":"x","type":"quantitative","scale":{"domain":[0,50]}},"x2":{"field":"X"},"y":{"field":"y","type":"quantitative","scale":{"domain":[50,0]}},"y2":{"field":"Y"},"color":{"field":"v","type":"quantitative","scale":{"scheme":"plasma","domain":[0,1]}}}}
]},
{"width":15,"height":1219,"data":{"name":"line"},"mark":{"type":"rule","color":"black","strokeWidth":4,"strokeDash":[15.5,11.5]},"encoding":{"x":{"field":"at","type":"quantitative","scale":{"domain":[0.06,1.06]}},"y":{"field":"y","type":"quantitative","scale":{"domain":[1219,0]}},"y2":{"field":"Y"}}},
{"spacing":0,"bounds":"flush","vconcat":[
{"width":238,"height":238,"view":{"fill":"#0d0887"},"data":{"name":"d1"},"mark":"rect","encoding":{"x":{"field":"x","type":"quantitative","scale":{"domain":[0,50]}},"x2":{"field":"X"},"y":{"field":"y","type":"quantitative","scale":{"domain":[50,0]}},"y2":{"field":"Y"},"color":{"field":"v","type":"quantitative","scale":{"scheme":"plasma","domain":[0,1]}}}},
{"width":1,"height":10,"data":{"values":[{}]},"mark":{"type":"rule","opacity":0},"encoding":{}},
{"width":238,"height":238,"view":{"fill":"#0d0887"},"data":{"name":"d2"},"mark":"rect","encoding":{"x":{"field":"x","type":"quantitative","scale":{"domain":[0,50]}},"x2":{"field":"X"},"y":{"field":"y","type":"quantitative","scale":{"domain":[50,0]}},"y2":{"field":"Y"},"color":{"field":"v","type":"quantitative","scale":{"scheme":"plasma","domain":[0,1]}}}},
{"width":1,"height":7,"data":{"values":[{}]},"mark":{"type":"rule","opacity":0},"encoding":{}},
{"width":238,"height":238,"view":{"fill":"#0d0887"},"data":{"name":"d3"},"mark":"rect","encoding":{"x":{"field":"x","type":"quantitative","scale":{"domain":[0,50]}},"x2":{"field":"X"},"y":{"field":"y","type":"quantitative","scale":{"domain":[50,0]}},"y2":{"field":"Y"},"color":{"field":"v","type":"quantitative","scale":{"scheme":"plasma","domain":[0,1]}}}},
{"width":1,"height":6,"data":{"values":[{}]},"mark":{"type":"rule","opacity":0},"encoding":{}},
{"width":238,"height":238,"view":{"fill":"#0d0887"},"data":{"name":"d4"},"mark":"rect","encoding":{"x":{"field":"x","type":"quantitative","scale":{"domain":[0,50]}},"x2":{"field":"X"},"y":{"field":"y","type":"quantitative","scale":{"domain":[50,0]}},"y2":{"field":"Y"},"color":{"field":"v","type":"quantitative","scale":{"scheme":"plasma","domain":[0,1]}}}},
{"width":1,"height":9,"data":{"values":[{}]},"mark":{"type":"rule","opacity":0},"encoding":{}},
{"width":238,"height":238,"view":{"fill":"#0d0887"},"data":{"name":"d5"},"mark":"rect","encoding":{"x":{"field":"x","type":"quantitative","scale":{"domain":[0,50]}},"x2":{"field":"X"},"y":{"field":"y","type":"quantitative","scale":{"domain":[50,0]}},"y2":{"field":"Y"},"color":{"field":"v","type":"quantitative","scale":{"scheme":"plasma","domain":[0,1]}}}}
]}
]}
]}
]}
